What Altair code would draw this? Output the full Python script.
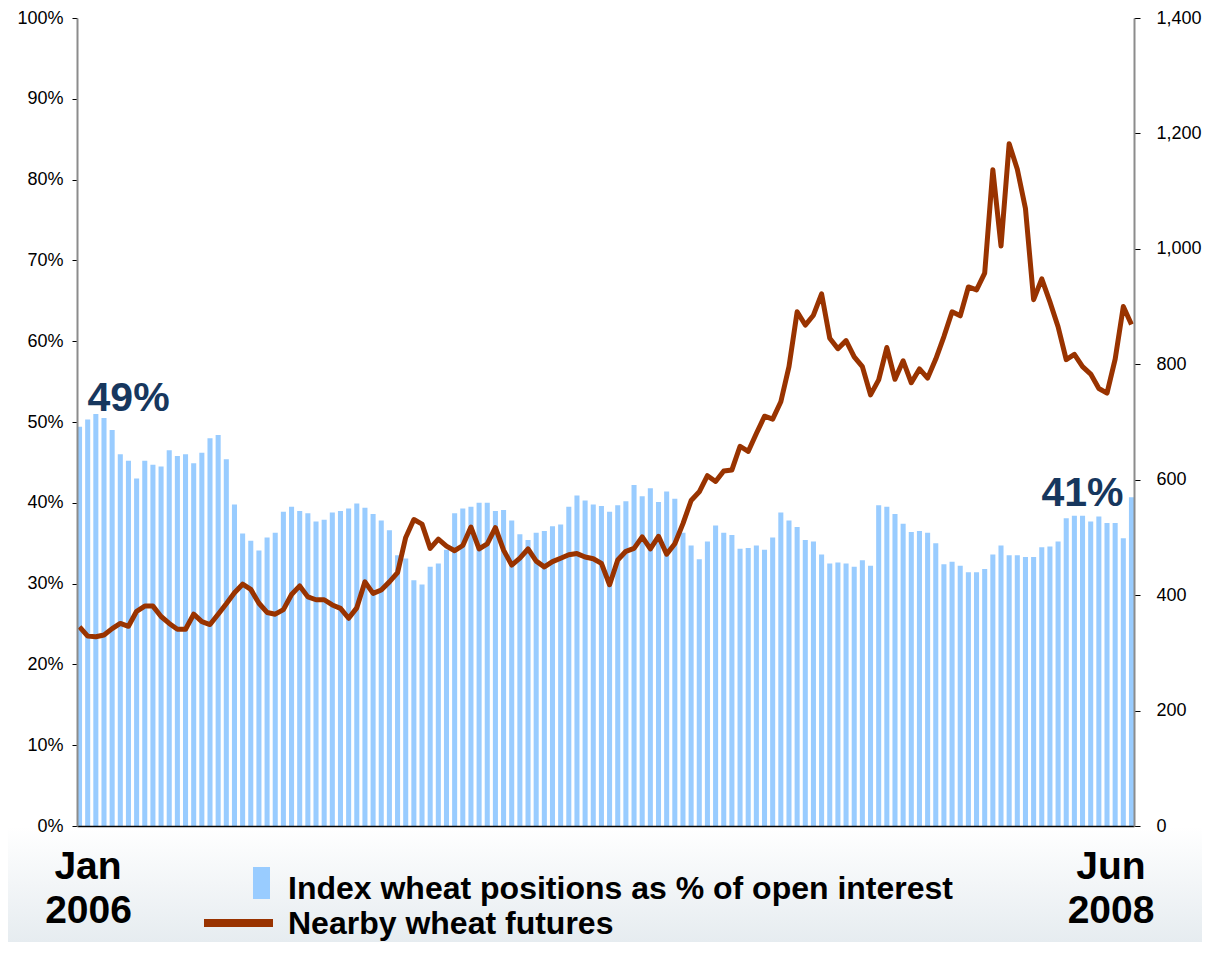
import altair as alt
import pandas as pd

# ---------------- data ----------------
WEEKS = list(range(1, 131))

INDEX_PCT = [
    49.4, 50.3, 51.0, 50.5, 49.0, 46.0, 45.2, 43.0, 45.2, 44.7,
    44.5, 46.5, 45.8, 46.0, 44.9, 46.2, 48.0, 48.4, 45.4, 39.8,
    36.2, 35.3, 34.1, 35.7, 36.3, 38.9, 39.5, 39.0, 38.7, 37.7,
    37.9, 38.8, 39.0, 39.3, 39.9, 39.4, 38.6, 37.8, 36.6, 33.5,
    33.1, 30.4, 29.9, 32.1, 32.5, 34.2, 38.7, 39.3, 39.5, 40.0,
    40.0, 39.0, 39.1, 37.8, 36.1, 35.4, 36.3, 36.5, 37.1, 37.3,
    39.5, 40.9, 40.3, 39.8, 39.6, 38.9, 39.7, 40.2, 42.2, 40.8,
    41.8, 40.1, 41.4, 40.5, 36.3, 34.7, 33.0, 35.2, 37.2, 36.3,
    36.0, 34.3, 34.4, 34.7, 34.2, 35.7, 38.8, 37.8, 37.0, 35.4,
    35.2, 33.6, 32.5, 32.6, 32.5, 32.1, 32.9, 32.2, 39.7, 39.5,
    38.6, 37.4, 36.4, 36.5, 36.3, 35.0, 32.4, 32.7, 32.2, 31.4,
    31.4, 31.8, 33.6, 34.7, 33.5, 33.5, 33.3, 33.3, 34.5, 34.6,
    35.2, 38.1, 38.4, 38.4, 37.7, 38.3, 37.5, 37.5, 35.6, 40.7,
]

WHEAT_PRICE = [
    345, 329, 328, 331, 342, 351, 346, 372, 381, 381,
    363, 351, 341, 341, 367, 354, 349, 367, 385, 404,
    419, 410, 386, 370, 367, 375, 401, 416, 397, 392,
    392, 383, 377, 360, 378, 423, 403, 409, 423, 439,
    500, 531, 523, 481, 497, 485, 477, 486, 518, 480,
    489, 517, 478, 452, 464, 480, 459, 449, 458, 464,
    470, 472, 466, 463, 455, 418, 461, 476, 481, 501,
    480, 502, 471, 489, 524, 564, 579, 607, 597, 615,
    617, 658, 649, 680, 710, 705, 735, 796, 891, 868,
    885, 922, 845, 827, 841, 813, 796, 747, 773, 829,
    774, 806, 768, 792, 776, 809, 848, 891, 884, 934,
    929, 958, 1137, 1005, 1182, 1138, 1070, 912, 948, 908,
    865, 808, 817, 796, 783, 758, 750, 809, 900, 869,
]

PCT_TICKS = list(range(0, 101, 10))
PRICE_TICKS = list(range(0, 1401, 200))

START_LABEL = ["Jan", "2006"]
END_LABEL = ["Jun", "2008"]
LEGEND_BAR = "Index wheat positions as % of open interest"
LEGEND_LINE = "Nearby wheat futures"

df = pd.DataFrame({"week": WEEKS, "pct": INDEX_PCT, "price": WHEAT_PRICE})
dummy = pd.DataFrame({"a": [0]})

# ---------------- styling ----------------
FONT = "Liberation Sans"
W, H = 1057, 808
BAR_COLOR = "#99ccff"
LINE_COLOR = "#993300"
NAVY = "#17375e"

xenc = alt.X(
    "week:O",
    scale=alt.Scale(paddingInner=0.38, paddingOuter=0),
    axis=alt.Axis(title=None, labels=False, ticks=False, grid=False,
                  domainColor="#000000", domainWidth=1.5, zindex=1),
)

yenc_pct = alt.Y(
    "pct:Q",
    scale=alt.Scale(domain=[0, 100], nice=False),
    axis=alt.Axis(orient="left", values=PCT_TICKS, labelExpr="datum.value + '%'",
                  title=None, grid=False, domainColor="#8c8c8c", domainWidth=2,
                  tickColor="#000000", tickSize=5, labelPadding=9, zindex=1,
                  labelFont=FONT, labelFontSize=18, labelColor="#000000"),
)

bg = alt.Chart(dummy).mark_rect(
    fill=alt.Gradient(
        gradient="linear",
        stops=[alt.GradientStop(color="#ffffff", offset=0),
               alt.GradientStop(color="#e6ecf0", offset=1)],
        x1=0, x2=0, y1=0, y2=1,
    )
).encode(x=alt.value(-69), x2=alt.value(W + 68), y=alt.value(H + 1), y2=alt.value(H + 116))

bars = alt.Chart(df).mark_bar(color=BAR_COLOR).encode(x=xenc, y=yenc_pct)

lab_first = alt.Chart(df).transform_filter("datum.week == 1").transform_calculate(
    lbl="round(datum.pct) + '%'"
).mark_text(align="left", baseline="alphabetic", dx=8, dy=-16, fontSize=41,
            fontWeight="bold", font=FONT, color=NAVY).encode(
    x=xenc, y=yenc_pct, text="lbl:N")

lab_last = alt.Chart(df).transform_filter("datum.week == 130").transform_calculate(
    lbl="round(datum.pct) + '%'"
).mark_text(align="right", baseline="alphabetic", dx=-8, dy=9, fontSize=41,
            fontWeight="bold", font=FONT, color=NAVY).encode(
    x=xenc, y=yenc_pct, text="lbl:N")

bar_group = alt.layer(bars, lab_first, lab_last)

line = alt.Chart(df).mark_line(color=LINE_COLOR, strokeWidth=5, strokeJoin="round").encode(
    x=xenc,
    y=alt.Y("price:Q", scale=alt.Scale(domain=[0, 1400], nice=False),
            axis=alt.Axis(orient="right", values=PRICE_TICKS,
                          labelExpr="format(datum.value, ',')", title=None,
                          grid=False, domainColor="#8c8c8c", domainWidth=2,
                          tickColor="#000000", tickSize=6, labelPadding=16, zindex=1,
                          labelFont=FONT, labelFontSize=18, labelColor="#000000")),
)


def label(text, x, y, size, align="left", color="#000000"):
    return alt.Chart(dummy).mark_text(
        text=text, font=FONT, fontSize=size, fontWeight="bold", align=align,
        baseline="alphabetic", color=color,
    ).encode(x=alt.value(x), y=alt.value(y))


texts = [
    label(START_LABEL[0], 11, 861, 39, "center"),
    label(START_LABEL[1], 11.5, 905, 39, "center"),
    label(END_LABEL[0], 1034, 861, 39, "center"),
    label(END_LABEL[1], 1034, 905, 39, "center"),
    label(LEGEND_BAR, 211, 881, 32),
    label(LEGEND_LINE, 211, 916, 32),
]

swatch_bar = alt.Chart(dummy).mark_rect(color=BAR_COLOR).encode(
    x=alt.value(176), x2=alt.value(193), y=alt.value(849), y2=alt.value(881))
swatch_line = alt.Chart(dummy).mark_rule(color=LINE_COLOR, strokeWidth=8).encode(
    x=alt.value(127), x2=alt.value(196), y=alt.value(905))

chart = alt.layer(bg, bar_group, line, swatch_bar, swatch_line, *texts).resolve_scale(
    y="independent"
).properties(
    width=W, height=H,
    padding={"left": 69, "top": 10, "right": 68, "bottom": 116},
    autosize=alt.AutoSizeParams(type="none"),
    background="#ffffff",
).configure_view(stroke=None)

chart.save("out.html", embed_options={"renderer": "svg", "actions": False})
